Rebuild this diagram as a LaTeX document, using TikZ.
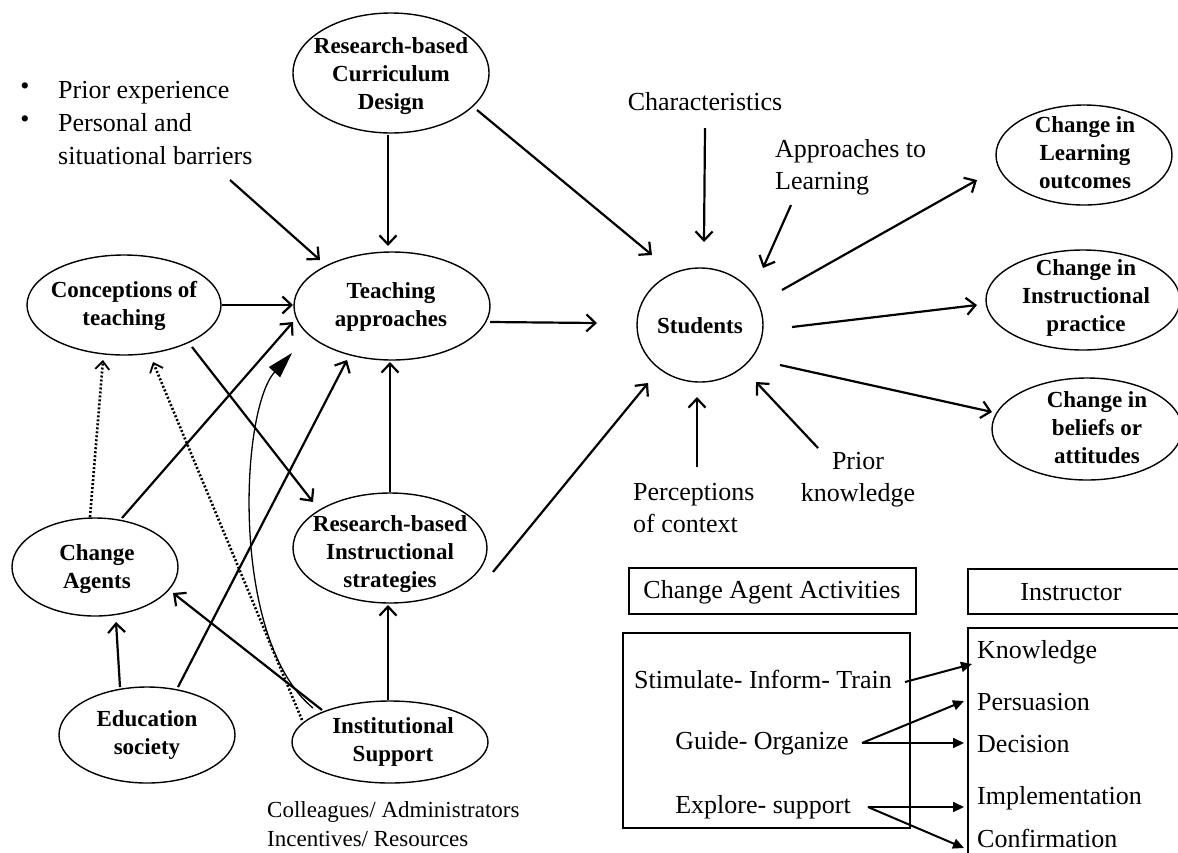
\documentclass[tikz,border=0pt]{standalone}
\usepackage{fontspec}
\setmainfont{Liberation Serif}
\usetikzlibrary{shapes.geometric,arrows.meta,calc}
\begin{document}
\begin{tikzpicture}[x=1pt,y=-1pt,
  oval/.style={ellipse,draw,line width=1.4pt,inner sep=0pt},
  lbl/.style={font=\bfseries\fontsize{23}{28}\selectfont,align=center,inner sep=0pt},
  txt/.style={font=\fontsize{26}{32}\selectfont,inner sep=0pt},
  arr/.style={line width=2.2pt,-{Straight Barb[length=9pt,width=17pt]}},
  dotarr/.style={line width=2.6pt,dash pattern=on 2pt off 2pt,-{Straight Barb[length=8pt,width=14pt,line width=1.8pt]}},
  tri/.style={line width=2pt,-{Triangle[length=11pt,width=10pt]}},
  box/.style={draw,line width=1.3pt,inner sep=0pt}]
\useasboundingbox (0,0) rectangle (1178,852);
\fill[white] (0,0) rectangle (1178,852);

% ellipses
\node[oval,minimum width=196,minimum height=120] (cur) at (391,73) {};
\node[lbl] (curT) at (391,76) {Research-based\\Curriculum\\Design};
\node[oval,minimum width=196,minimum height=108] (tea) at (392,306) {};
\node[lbl] (teaT) at (391,307) {Teaching\\approaches};
\node[oval,minimum width=194,minimum height=100] (con) at (124,305) {};
\node[lbl] (conT) at (124,306) {Conceptions of\\teaching};
\node[oval,minimum width=194,minimum height=110] (ins) at (390,548) {};
\node[lbl] (insT) at (390,554) {Research-based\\Instructional\\strategies};
\node[oval,minimum width=166,minimum height=98] (cha) at (95,567) {};
\node[lbl] (chaT) at (97,569) {Change\\Agents};
\node[oval,minimum width=176,minimum height=96] (edu) at (147,735) {};
\node[lbl] (eduT) at (147,735) {Education\\society};
\node[oval,minimum width=196,minimum height=82] (sup) at (390,742) {};
\node[lbl] (supT) at (393,742) {Institutional\\Support};
\node[oval,minimum width=126,minimum height=114] (stu) at (700,325) {};
\node[lbl] (stuT) at (700,326) {Students};
\node[oval,minimum width=176,minimum height=100] (out) at (1084,155) {};
\node[lbl] (outT) at (1085,153) {Change in\\Learning\\outcomes};
\node[oval,minimum width=194,minimum height=100] (pra) at (1083,300) {};
\node[lbl] (praT) at (1086,298) {Change in\\Instructional\\practice};
\node[oval,minimum width=190,minimum height=102] (bel) at (1087,429) {};
\node[lbl] (belT) at (1097,428) {Change in\\beliefs or\\attitudes};

% plain texts
\node[txt] (b1) at (25,89) {\textbullet};
\node[txt] (b2) at (25,122) {\textbullet};
\node[txt,anchor=west,align=left,font=\fontsize{26}{33}\selectfont] (bar) at (58,123) {Prior experience\\Personal and\\situational barriers};
\node[txt] (chr) at (705,102) {Characteristics};
\node[txt,anchor=west,align=left] (apl) at (775,167) {Approaches to\\Learning};
\node[txt,anchor=west,align=left] (per) at (633,508) {Perceptions\\of context};
\node[txt,align=center] (pri) at (858,480) {Prior\\knowledge};
\node[txt,anchor=west,align=left,font=\fontsize{23}{29}\selectfont] (col) at (267,824) {Colleagues/ Administrators\\Incentives/ Resources};

% free ends
\coordinate (barS) at (230,180);
\coordinate (chrS) at (705,128);
\coordinate (aplS) at (791,205);
\coordinate (perS) at (697,467);
\coordinate (priS) at (818,448);

% connectors
\draw[arr] (barS) -- ($(tea)+(-72,-46)$);
\draw[arr] ($(cur)+(-3,62)$) -- ($(tea)+(-4,-60)$);
\draw[arr] ($(cur)+(86,37)$) -- ($(stu)+(-48,-70)$);
\draw[arr] ($(tea)+(98,16)$) -- ($(stu)+(-103,-2)$);
\draw[arr] ($(con)+(98,0)$) -- ($(tea)+(-99,-1)$);
\draw[arr] ($(con)+(68,42)$) -- ($(ins)+(-77,-46)$);
\draw[arr] ($(cha)+(27,-49)$) -- ($(tea)+(-99,16)$);
\draw[arr] ($(edu)+(31,-48)$) -- ($(tea)+(-45,54)$);
\draw[arr] ($(edu)+(-27,-48)$) -- ($(cha)+(21,55)$);
\draw[arr] ($(sup)+(-68,-32)$) -- ($(cha)+(78,26)$);
\draw[arr] ($(sup)+(-2,-42)$) -- ($(ins)+(-2,57)$);
\draw[arr] ($(ins)+(0,-56)$) -- ($(tea)+(-2,56)$);
\draw[arr] ($(ins)+(103,24)$) -- ($(stu)+(-52,58)$);
\draw[dotarr] ($(cha)+(-5,-50)$) -- ($(con)+(-21,55)$);
\draw[dotarr] ($(sup)+(-88,-22)$) -- ($(con)+(29,57)$);
\draw[line width=1.3pt,-{Triangle[length=26pt,width=15pt]}] ($(sup)+(-77,-34)$) .. controls (230,640) and (240,410) .. ($(tea)+(-100,47)$);

\draw[arr] (chrS) -- ($(stu)+(4,-83)$);
\draw[arr] (aplS) -- ($(stu)+(63,-57)$);
\draw[arr] ($(stu)+(82,-35)$) -- ($(out)+(-107,25)$);
\draw[arr] ($(stu)+(92,2)$) -- ($(pra)+(-106,5)$);
\draw[arr] ($(stu)+(80,40)$) -- ($(bel)+(-95,-17)$);
\draw[arr] (perS) -- ($(stu)+(-3,72)$);
\draw[arr] (priS) -- ($(stu)+(56,57)$);

% bottom right panel
\node[box,minimum width=287,minimum height=46] (caa) at (772.5,591) {};
\node[txt] (caaT) at (772,592) {Change Agent Activities};
\node[box,minimum width=236,minimum height=45] (inb) at (1086,591.5) {};
\node[txt] (inbT) at (1071,592) {Instructor};
\node[box,minimum width=287,minimum height=195] (act) at (766.5,730.5) {};
\node[txt] (sti) at (763,679) {Stimulate- Inform- Train};
\node[txt] (gui) at (762,743) {Guide- Organize};
\node[txt] (exo) at (763,807) {Explore- support};
\node[box,minimum width=236,minimum height=260] (ist) at (1086,758) {};
\node[txt,anchor=west] (kno) at (977,652) {Knowledge};
\node[txt,anchor=west] (prs) at (977,702) {Persuasion};
\node[txt,anchor=west] (dec) at (977,744) {Decision};
\node[txt,anchor=west] (imp) at (977,798) {Implementation};
\node[txt,anchor=west] (cnf) at (977,838) {Confirmation};

\draw[tri] ($(sti.east)+(13,3)$) -- ($(kno.west)+(-5,12)$);
\draw[tri] ($(gui.east)+(13,0)$) -- ($(prs.west)+(-13,-1)$);
\draw[tri] ($(gui.east)+(13,0)$) -- ($(dec.west)+(-13,-1)$);
\draw[tri] ($(exo.east)+(17,0)$) -- ($(imp.west)+(-13,9)$);
\draw[tri] ($(exo.east)+(17,0)$) -- ($(cnf.west)+(-13,10)$);
\end{tikzpicture}
\end{document}
